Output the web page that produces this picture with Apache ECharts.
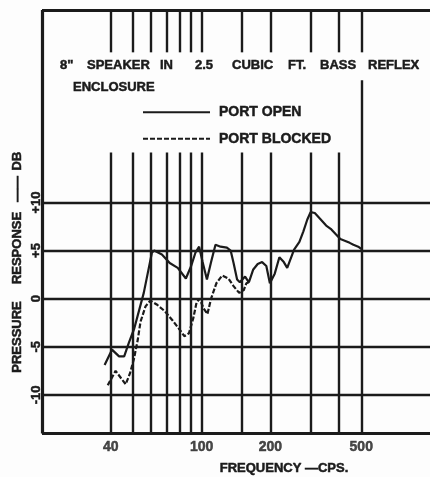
<!DOCTYPE html>
<html>
<head>
<meta charset="utf-8">
<script src="https://cdn.jsdelivr.net/npm/echarts@6/dist/echarts.min.js"></script>
<style>
html,body{margin:0;padding:0;background:#fdfdfd;}
#c{width:430px;height:477px;}
</style>
</head>
<body>
<div id="c"></div>
<script>
// ---- data ----
const gridFreqs = [40, 50, 60, 70, 80, 90, 100, 150, 200, 300, 400, 500];
const xLabelFreqs = [40, 100, 200, 500];
const dbGrid = [-10, -5, 0, 5, 10];
const dbLabels = ['-10', '-5', '0', '+5', '+10'];

const openFreq = [37.6, 40.5, 43.5, 45.8, 48, 50.7, 55.8, 60.6, 62, 67, 72.5, 78.6, 85.3, 90, 94, 97.5, 101, 105.5, 110, 115, 121, 129, 134, 138, 143, 147, 155, 161, 168, 176, 184, 192, 199, 209, 219, 229, 237, 254, 268, 279, 290, 300, 313, 330, 351, 370, 387, 405, 426, 445, 462, 485, 505];
const openDb   = [-6.9, -5.3, -6.0, -6.0, -4.6, -3.1, 0.6, 4.8, 5.0, 4.6, 3.7, 3.2, 2.1, 3.4, 4.8, 5.4, 3.8, 2.0, 3.8, 5.6, 5.4, 5.3, 5.0, 3.7, 2.0, 1.7, 2.3, 1.7, 3.0, 3.6, 3.8, 3.4, 1.6, 2.6, 4.3, 3.8, 3.2, 5.1, 5.9, 7.0, 8.2, 9.0, 8.9, 8.3, 7.6, 7.2, 6.7, 6.2, 6.0, 5.8, 5.6, 5.4, 5.1];

const blockedFreq = [38.8, 42, 44.5, 46.5, 48.5, 50.5, 52.5, 54, 56.8, 59.6, 63.6, 69, 74.8, 80, 84, 88, 92, 95, 98, 102, 106, 110, 116, 123, 131, 138, 146, 153, 157, 161];
const blockedDb   = [-9.0, -7.5, -8.3, -8.9, -7.8, -6.3, -4.3, -2.4, -0.8, -0.2, -0.6, -1.3, -2.3, -3.2, -3.9, -3.6, -2.0, -0.4, 0.0, -1.0, -1.6, 0.0, 1.6, 2.4, 2.1, 1.3, 0.6, 0.9, 1.6, 1.7];

const titleWords = ['8"', 'SPEAKER', 'IN', '2.5', 'CUBIC', 'FT.', 'BASS', 'REFLEX'];
const title2 = 'ENCLOSURE';
const xTitle = 'FREQUENCY —CPS.';
const yTitleWords = ['PRESSURE', 'RESPONSE', '——', 'DB'];

// ---- chart ----
const INK = '#1b1b1b';
const FONT = "'Liberation Sans', Arial, sans-serif";
const X_MIN = 20, X_MAX = 1000, Y_TOP = 30, Y_BOT = -14;
const GAP_TOP = 25.6, GAP_BOT = 15.2, GAP_BOT_500 = 22.7;

const gridLines = [];
gridFreqs.forEach(f => {
  gridLines.push([{coord: [f, Y_TOP]}, {coord: [f, GAP_TOP]}]);
  gridLines.push([{coord: [f, f === 500 ? GAP_BOT_500 : GAP_BOT]}, {coord: [f, Y_BOT]}]);
});
dbGrid.forEach(d => gridLines.push([{coord: [X_MIN, d]}, {coord: [X_MAX, d]}]));
const frameLines = [
  [{coord: [X_MIN, Y_BOT]}, {coord: [X_MIN, Y_TOP]}],
  [{coord: [X_MIN, Y_TOP]}, {coord: [X_MAX, Y_TOP]}],
  [{coord: [X_MIN, Y_BOT]}, {coord: [X_MAX, Y_BOT]}]
];

// layout of the hand-lettered words (left x of each word)
const titleX = [60, 87, 160, 195, 232, 288, 320, 368];
const yTitleY = [337, 248, 189, 161];
const heavy = {fill: INK, stroke: INK, lineWidth: 0.5};

const graphics = titleWords.map((w, i) => ({
  type: 'text', x: titleX[i], y: 65,
  style: Object.assign({text: w, font: 'bold 13px ' + FONT, verticalAlign: 'middle'}, heavy)
}));
graphics.push({type: 'text', x: 73, y: 87, style: Object.assign({text: title2, font: 'bold 13px ' + FONT, verticalAlign: 'middle'}, heavy)});
graphics.push({type: 'text', x: 284, y: 468, style: Object.assign({text: xTitle, font: 'bold 13px ' + FONT, align: 'center', verticalAlign: 'middle'}, heavy)});
yTitleWords.forEach((w, i) => graphics.push({
  type: 'text', x: 17, y: yTitleY[i], rotation: Math.PI / 2,
  style: Object.assign({text: w, font: 'bold 13px ' + FONT, align: 'center', verticalAlign: 'middle'}, heavy)
}));

const chart = echarts.init(document.getElementById('c'), null, {renderer: 'canvas'});
chart.setOption({
  backgroundColor: '#fdfdfd',
  animation: false,
  grid: {left: 42, top: 10, width: 404, height: 433},
  xAxis: {type: 'log', logBase: 10, min: X_MIN, max: X_MAX, show: false},
  yAxis: {
    type: 'value', min: -15, max: 30, interval: 5,
    axisLine: {show: false}, axisTick: {show: false}, splitLine: {show: false},
    axisLabel: {
      rotate: 90, margin: -1,
      color: INK, fontFamily: FONT, fontWeight: 'bold', fontSize: 13,
      textBorderColor: INK, textBorderWidth: 0.5,
      formatter: v => { const i = dbGrid.indexOf(v); return i >= 0 ? dbLabels[i] : ''; }
    }
  },
  legend: {
    data: ['PORT OPEN', 'PORT BLOCKED'],
    orient: 'vertical', left: 137, top: 100,
    itemWidth: 67, itemHeight: 14, itemGap: 12,
    itemStyle: {opacity: 0},
    textStyle: {color: INK, fontFamily: FONT, fontWeight: 'bold', fontSize: 14, padding: [0, 0, 0, 4], textBorderColor: INK, textBorderWidth: 0.5},
    selectedMode: false
  },
  graphic: graphics,
  series: [
    {
      name: 'grid', type: 'line', data: [], clip: false, silent: true,
      markLine: {
        silent: true, symbol: ['none', 'none'], label: {show: false},
        lineStyle: {color: INK, width: 2.4, type: 'solid'},
        data: gridLines
      }
    },
    {
      name: 'frame', type: 'line', data: [], clip: false, silent: true,
      markLine: {
        silent: true, symbol: ['none', 'none'], label: {show: false},
        lineStyle: {color: INK, width: 3.2, type: 'solid'},
        data: frameLines
      }
    },
    {
      name: 'PORT OPEN', type: 'line', symbol: 'none', smooth: false, z: 5,
      lineStyle: {color: INK, width: 2.2},
      itemStyle: {color: INK},
      data: openFreq.map((f, i) => [f, openDb[i]])
    },
    {
      name: 'PORT BLOCKED', type: 'line', symbol: 'none', smooth: false, z: 5,
      lineStyle: {color: INK, width: 2.2, type: [5, 2]},
      itemStyle: {color: INK},
      data: blockedFreq.map((f, i) => [f, blockedDb[i]])
    },
    {
      name: 'xlabels', type: 'scatter', symbolSize: 0, clip: false, silent: true,
      data: xLabelFreqs.map(f => [f, Y_BOT]),
      label: {
        show: true, position: 'bottom', distance: 7,
        color: INK, fontFamily: FONT, fontWeight: 'bold', fontSize: 14,
        textBorderColor: INK, textBorderWidth: 0.5,
        formatter: p => String(p.value[0])
      }
    }
  ]
});
</script>
</body>
</html>
